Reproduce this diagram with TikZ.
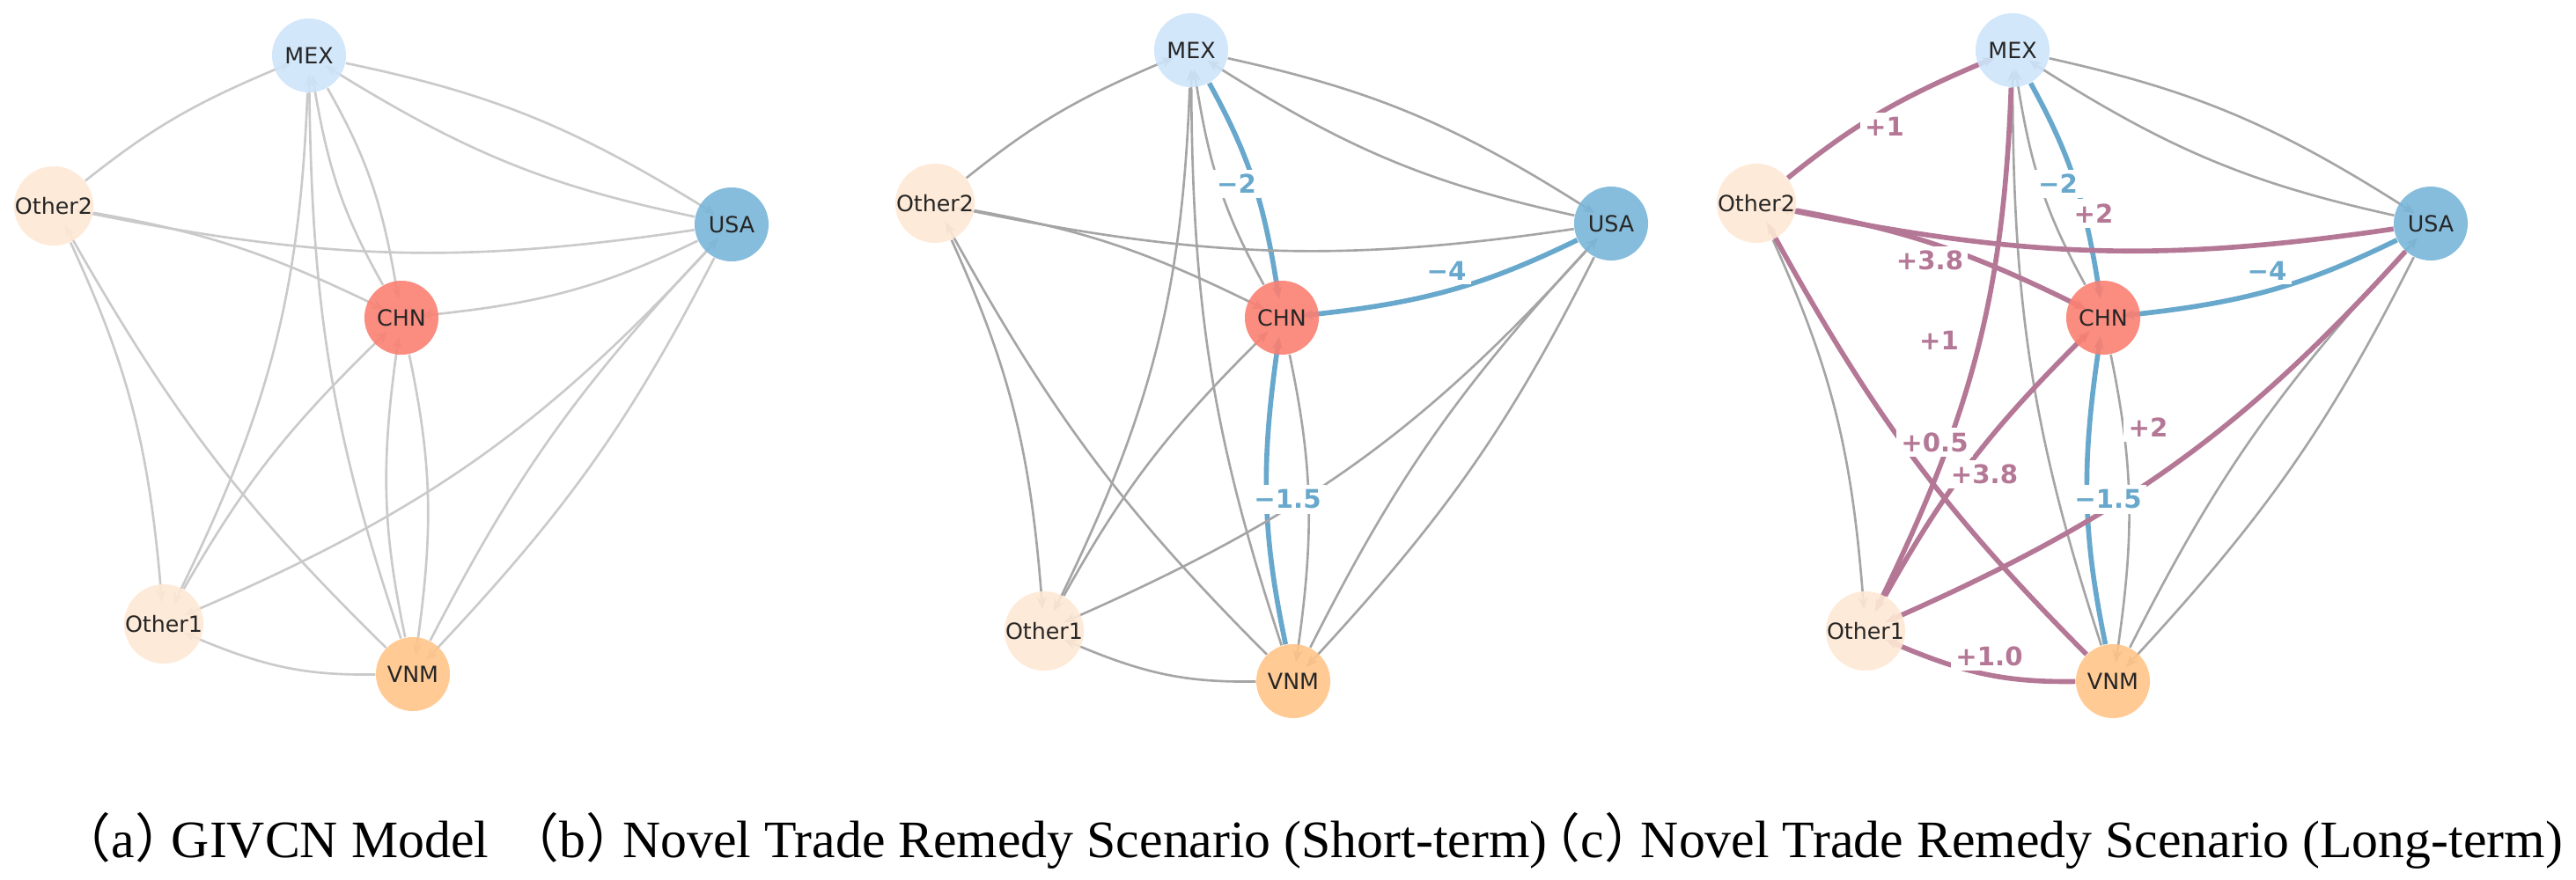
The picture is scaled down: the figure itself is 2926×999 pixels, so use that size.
\documentclass[tikz,border=0pt]{standalone}
\usepackage{fontspec}
\setmainfont{Liberation Serif}
\newfontfamily\nodefont{DejaVu Sans}
\newfontfamily\cjk{Noto Sans CJK SC}
\usetikzlibrary{calc,arrows.meta}
\definecolor{mexfill}{RGB}{206,228,250}
\definecolor{otherfill}{RGB}{254,232,212}
\definecolor{usafill}{RGB}{122,182,216}
\definecolor{chnfill}{RGB}{250,128,114}
\definecolor{vnmfill}{RGB}{255,196,136}
\definecolor{cutblue}{RGB}{104,168,204}
\definecolor{risepink}{RGB}{180,120,150}
\definecolor{linkgray}{RGB}{165,165,165}
\definecolor{linklight}{RGB}{202,202,202}
\pgfdeclarelayer{edges}
\pgfsetlayers{edges,main}

\begin{document}
\begin{tikzpicture}[x=0.01cm,y=-0.01cm,country/.style={circle,minimum size=0.84cm,inner sep=0pt,fill opacity=0.9,text opacity=1,text=black!85,font=\nodefont\fontsize{7.2pt}{8.6pt}\selectfont},mx/.style={country,fill=mexfill},us/.style={country,fill=usafill},cn/.style={country,fill=chnfill},vn/.style={country,fill=vnmfill},ot/.style={country,fill=otherfill},link/.style={draw=linkgray,line width=0.75pt,shorten >=-6pt,-{Stealth[length=4pt,width=3.2pt]}},linka/.style={link,draw=linklight},cut/.style={link,draw=cutblue,line width=1.6pt},rise/.style={link,draw=risepink,line width=1.6pt},elabel/.style={fill=white,inner sep=1.5pt,font=\nodefont\bfseries\fontsize{8.3pt}{10pt}\selectfont},cutlab/.style={elabel,text=cutblue},riselab/.style={elabel,text=risepink},caption/.style={anchor=base west,inner sep=0pt,font=\fontsize{17pt}{20.4pt}\selectfont}]
\useasboundingbox (0,0) rectangle (2926,999);
\node[mx] (aMEX) at (351,63) {MEX};
\node[ot] (aO2) at (61,234) {Other2};
\node[us] (aUSA) at (831,255) {USA};
\node[cn] (aCHN) at (456,361) {CHN};
\node[ot] (aO1) at (186,709) {Other1};
\node[vn] (aVNM) at (469,766) {VNM};
\node[mx] (bMEX) at (1353,57) {MEX};
\node[ot] (bO2) at (1062,231) {Other2};
\node[us] (bUSA) at (1830,254) {USA};
\node[cn] (bCHN) at (1456,361) {CHN};
\node[ot] (bO1) at (1186,717) {Other1};
\node[vn] (bVNM) at (1469,774) {VNM};
\node[mx] (cMEX) at (2286,57) {MEX};
\node[ot] (cO2) at (1995,231) {Other2};
\node[us] (cUSA) at (2761,254) {USA};
\node[cn] (cCHN) at (2389,361) {CHN};
\node[ot] (cO1) at (2119,717) {Other1};
\node[vn] (cVNM) at (2400,774) {VNM};
\begin{pgfonlayer}{edges}
\draw[linka] (aO2) to[bend left=8] (aMEX);
\draw[linka] (aMEX) to[bend left=10] (aUSA);
\draw[linka] (aUSA) to[bend left=10] (aMEX);
\draw[linka] (aMEX) to[bend left=10] (aCHN);
\draw[linka] (aCHN) to[bend left=10] (aMEX);
\draw[linka] (aVNM) to[bend left=9] (aMEX);
\draw[linka] (aMEX) to[bend left=12] (aO1);
\draw[linka] (aUSA) to[bend left=10] (aO2);
\draw[linka] (aO2) to[bend left=8] (aCHN);
\draw[linka] (aO2) to[bend left=10] (aO1);
\draw[linka] (aVNM) to[bend left=8] (aO2);
\draw[linka] (aUSA) to[bend left=10] (aCHN);
\draw[linka] (aUSA) to[bend left=8] (aVNM);
\draw[linka] (aVNM) to[bend left=8] (aUSA);
\draw[linka] (aCHN) to[bend left=10] (aVNM);
\draw[linka] (aVNM) to[bend left=10] (aCHN);
\draw[linka] (aO1) to[bend left=8] (aCHN);
\draw[linka] (aUSA) to[bend left=12] (aO1);
\draw[linka] (aVNM) to[bend left=12] (aO1);
\draw[link] (bO2) to[bend left=8] (bMEX);
\draw[link] (bMEX) to[bend left=10] (bUSA);
\draw[link] (bUSA) to[bend left=10] (bMEX);
\draw[cut] (bMEX) to[bend left=10] (bCHN);
\draw[link] (bCHN) to[bend left=10] (bMEX);
\draw[link] (bVNM) to[bend left=9] (bMEX);
\draw[link] (bMEX) to[bend left=12] (bO1);
\draw[link] (bUSA) to[bend left=10] (bO2);
\draw[link] (bO2) to[bend left=8] (bCHN);
\draw[link] (bO2) to[bend left=10] (bO1);
\draw[link] (bVNM) to[bend left=8] (bO2);
\draw[cut] (bUSA) to[bend left=10] (bCHN);
\draw[link] (bUSA) to[bend left=8] (bVNM);
\draw[link] (bVNM) to[bend left=8] (bUSA);
\draw[link] (bCHN) to[bend left=10] (bVNM);
\draw[cut] (bVNM) to[bend left=10] (bCHN);
\draw[link] (bO1) to[bend left=8] (bCHN);
\draw[link] (bUSA) to[bend left=12] (bO1);
\draw[link] (bVNM) to[bend left=12] (bO1);
\draw[rise] (cO2) to[bend left=8] (cMEX);
\draw[link] (cMEX) to[bend left=10] (cUSA);
\draw[link] (cUSA) to[bend left=10] (cMEX);
\draw[cut] (cMEX) to[bend left=10] (cCHN);
\draw[link] (cCHN) to[bend left=10] (cMEX);
\draw[link] (cVNM) to[bend left=9] (cMEX);
\draw[rise] (cMEX) to[bend left=12] (cO1);
\draw[rise] (cUSA) to[bend left=10] (cO2);
\draw[rise] (cO2) to[bend left=8] (cCHN);
\draw[link] (cO2) to[bend left=10] (cO1);
\draw[rise] (cVNM) to[bend left=8] (cO2);
\draw[cut] (cUSA) to[bend left=10] (cCHN);
\draw[link] (cUSA) to[bend left=8] (cVNM);
\draw[link] (cVNM) to[bend left=8] (cUSA);
\draw[link] (cCHN) to[bend left=10] (cVNM);
\draw[cut] (cVNM) to[bend left=10] (cCHN);
\draw[rise] (cO1) to[bend left=8] (cCHN);
\draw[rise] (cUSA) to[bend left=12] (cO1);
\draw[rise] (cVNM) to[bend left=12] (cO1);
\end{pgfonlayer}
\node[cutlab] (bl1) at ($(bMEX)!0.5!(bCHN)$) {−2};
\node[cutlab] (bl2) at ($(bUSA)!0.5!(bCHN)$) {−4};
\node[cutlab] (bl3) at ($(bVNM)!0.5!(bCHN)$) {−1.5};
\node[cutlab] (cl1) at ($(cMEX)!0.5!(cCHN)$) {−2};
\node[cutlab] (cl2) at ($(cUSA)!0.5!(cCHN)$) {−4};
\node[cutlab] (cl3) at ($(cVNM)!0.5!(cCHN)$) {−1.5};
\node[riselab] (cl4) at ($(cO2)!0.5!(cMEX)$) {+1};
\node[riselab] (cl5) at ($(cUSA)!0.5!(cO2)$) {+2};
\node[riselab] (cl6) at ($(cO2)!0.5!(cCHN)$) {+3.8};
\node[riselab] (cl7) at ($(cMEX)!0.5!(cO1)$) {+1};
\node[riselab] (cl8) at ($(cVNM)!0.5!(cO2)$) {+0.5};
\node[riselab] (cl9) at ($(cO1)!0.5!(cCHN)$) {+3.8};
\node[riselab] (cl10) at ($(cUSA)!0.5!(cO1)$) {+2};
\node[riselab] (cl11) at ($(cVNM)!0.5!(cO1)$) {+1.0};
\node[caption] (capa) at (66,974) {{\cjk （}a{\cjk ）}\hspace{-0.3em}GIVCN Model};
\node[caption] (capb) at (575,974) {{\cjk （}b{\cjk ）}\hspace{-0.3em}Novel Trade Remedy Scenario (Short-term)};
\node[caption] (capc) at (1735,974) {{\cjk （}c{\cjk ）}\hspace{-0.3em}Novel Trade Remedy Scenario (Long-term)};
\end{tikzpicture}
\end{document}
